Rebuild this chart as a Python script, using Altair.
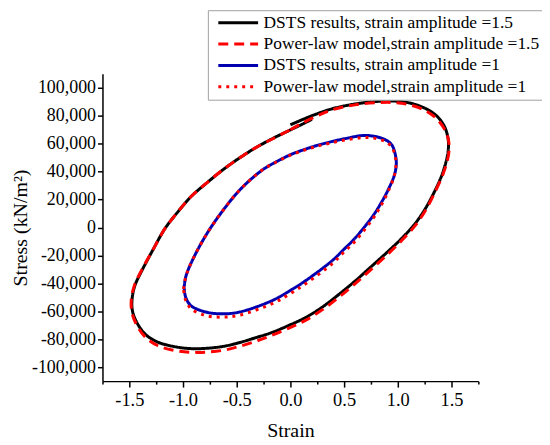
import altair as alt
import pandas as pd

names = [
    "DSTS results, strain amplitude =1.5",
    "Power-law model,strain amplitude =1.5",
    "DSTS results, strain amplitude =1",
    "Power-law model,strain amplitude =1",
]
colors = ["#000000", "#ff0000", "#0000b0", "#ff0000"]
dashes = [[1, 0], [10, 6], [1, 0], [3, 5]]

# DSTS, amplitude 1.5 (strain, stress in kN/m2)
dsts15_strain = [0.00, 0.20, 0.39, 0.60, 0.80, 0.95, 1.10, 1.25, 1.36, 1.43, 1.465, 1.472,
                 1.455, 1.41, 1.35, 1.26, 1.163, 1.04, 0.915, 0.76, 0.606, 0.45, 0.295, 0.14,
                 -0.014, -0.184, -0.323, -0.47, -0.617, -0.78, -0.93, -1.08, -1.237, -1.35,
                 -1.43, -1.47, -1.475, -1.45, -1.376, -1.28, -1.17, -1.05, -0.927, -0.77,
                 -0.617, -0.46, -0.308, -0.15, 0.0, 0.125, 0.20]
dsts15_stress = [73500, 80000, 85000, 88400, 90200, 90600, 89300, 85500, 80000, 73000, 65000, 58000,
                 49000, 37500, 27000, 14000, 3000, -7500, -16700, -27500, -38100, -48000, -57100, -64500,
                 -70100, -75500, -78900, -82300, -85000, -86500, -86700, -85300, -82000, -76500,
                 -68000, -60000, -52000, -42000, -29800, -16000, -1000, 11000, 22000, 32500,
                 42000, 50500, 57800, 64300, 69900, 74500, 77500]

# Power-law model, amplitude 1.5
pl15_strain = [0.0, 0.125, 0.25, 0.39, 0.60, 0.80, 0.95, 1.10, 1.25, 1.36, 1.43, 1.468, 1.478,
               1.465, 1.42, 1.35, 1.26, 1.163, 1.04, 0.915, 0.76, 0.606, 0.45, 0.295, 0.14,
               -0.014, -0.184, -0.323, -0.47, -0.617, -0.78, -0.93, -1.08, -1.237, -1.35,
               -1.43, -1.475, -1.482, -1.455, -1.38, -1.28, -1.17, -1.05, -0.927, -0.77,
               -0.617, -0.46, -0.308, -0.15, 0.0]
pl15_stress = [70000, 75300, 80000, 84300, 87800, 89300, 89500, 88000, 84000, 78000, 71000, 64000, 57000,
               49000, 38000, 26000, 12500, 1500, -9000, -18500, -29500, -40000, -50000, -59000, -66500,
               -72000, -77500, -81500, -85000, -87800, -89200, -89300, -88000, -84500, -78500,
               -70000, -61000, -52000, -42000, -29800, -16000, -1000, 11000, 22000, 32500,
               42000, 50500, 57800, 64100, 70000]

# DSTS, amplitude 1
dsts1_strain = [-0.99, -0.975, -0.943, -0.85, -0.741, -0.63, -0.51, -0.39, -0.246, -0.12, 0.0, 0.125,
                0.25, 0.39, 0.52, 0.667, 0.78, 0.884, 0.945, 0.977, 0.986, 0.97, 0.91, 0.84,
                0.77, 0.606, 0.50, 0.388, 0.141, -0.01, -0.169, -0.478, -0.648, -0.80, -0.927,
                -0.975, -0.99]
dsts1_stress = [-42800, -35500, -28600, -14000, 0, 12000, 23600, 33000, 42000, 47500, 52100, 55700,
                58800, 61600, 63800, 65800, 65300, 62800, 59000, 52100, 46000, 38000, 27000, 17000,
                8500, -7300, -15500, -23800, -38100, -45500, -52300, -60600, -61800, -60300, -55900,
                -50000, -42800]

# Power-law model, amplitude 1
pl1_strain = [-0.995, -0.975, -0.943, -0.85, -0.741, -0.63, -0.51, -0.39, -0.246, -0.12, 0.0, 0.125,
              0.25, 0.39, 0.52, 0.667, 0.78, 0.884, 0.945, 0.975, 0.983, 0.965, 0.905, 0.835,
              0.765, 0.606, 0.50, 0.388, 0.141, -0.01, -0.169, -0.478, -0.648, -0.80, -0.927,
              -0.978, -0.995]
pl1_stress = [-44000, -35500, -28600, -14000, 0, 12000, 23600, 33000, 42000, 47300, 51800, 55300,
              58200, 60800, 62800, 64400, 64000, 61500, 57500, 51000, 45000, 36500, 25000, 14500,
              6000, -9500, -17500, -26000, -40300, -47800, -54500, -62800, -64200, -62800, -58000,
              -51500, -44000]

x_ticks = [-1.75, -1.5, -1.25, -1.0, -0.75, -0.5, -0.25, 0.0, 0.25, 0.5, 0.75, 1.0, 1.25, 1.5, 1.75]
y_ticks = [-100000, -80000, -60000, -40000, -20000, 0, 20000, 40000, 60000, 80000, 100000]

rows = []
for name, xs, ys in zip(names,
                        [dsts15_strain, pl15_strain, dsts1_strain, pl1_strain],
                        [dsts15_stress, pl15_stress, dsts1_stress, pl1_stress]):
    for i, (x, y) in enumerate(zip(xs, ys)):
        rows.append({"series": name, "i": i, "strain": x, "stress": y})
df = pd.DataFrame(rows)

FONT = "Liberation Serif"

legend = alt.Legend(
    title=None, orient="none", legendX=106, legendY=-64,
    symbolType="stroke", symbolSize=1600, symbolStrokeWidth=3,
    labelFont=FONT, labelFontSize=17.5, labelColor="black", labelLimit=400,
    labelOffset=4, symbolOffset=5, clipHeight=17,
    padding=4, rowPadding=3.5,
    strokeColor="#a0a0a0", fillColor="white",
)

chart = alt.Chart(df).mark_line(strokeWidth=3, interpolate="catmull-rom").encode(
    x=alt.X("strain:Q", title="Strain",
            scale=alt.Scale(domain=[-1.75, 1.75], nice=False, zero=False),
            axis=alt.Axis(values=x_ticks,
                          labelExpr="datum.value % 0.5 == 0 ? (datum.value < 0 ? '-' + format(-datum.value, '.1f') : format(datum.value, '.1f')) : ''",
                          tickSize={"condition": {"test": "datum.value % 0.5 == 0", "value": 6}, "value": 3},
                          labelFontSize=18.5, labelPadding=4, titlePadding=11, titleFontSize=20)),
    y=alt.Y("stress:Q", title="Stress (kN/m²)",
            scale=alt.Scale(domain=[-110000, 110000], nice=False, zero=False),
            axis=alt.Axis(values=y_ticks,
                          labelExpr="(datum.value < 0 ? '-' : '') + format(abs(datum.value), ',')",
                          tickSize=5, labelFontSize=18, labelPadding=2, titlePadding=1,
                          titleFontSize=20)),
    color=alt.Color("series:N", scale=alt.Scale(domain=names, range=colors), legend=legend),
    strokeDash=alt.StrokeDash("series:N", scale=alt.Scale(domain=names, range=dashes), legend=legend),
    order="i:Q",
    detail="series:N",
).properties(
    width=378, height=309,
    autosize=alt.AutoSizeParams(type="none"),
    padding={"left": 95, "top": 65, "right": 64, "bottom": 63},
).configure_view(stroke=None).configure_axis(
    grid=False, domainColor="black", domainWidth=1.5, tickColor="black", tickWidth=1.5,
    labelFont=FONT, labelColor="black",
    titleFont=FONT, titleFontWeight="normal", titleColor="black",
)

chart.save("out.html", embed_options={"renderer": "svg", "actions": False})
